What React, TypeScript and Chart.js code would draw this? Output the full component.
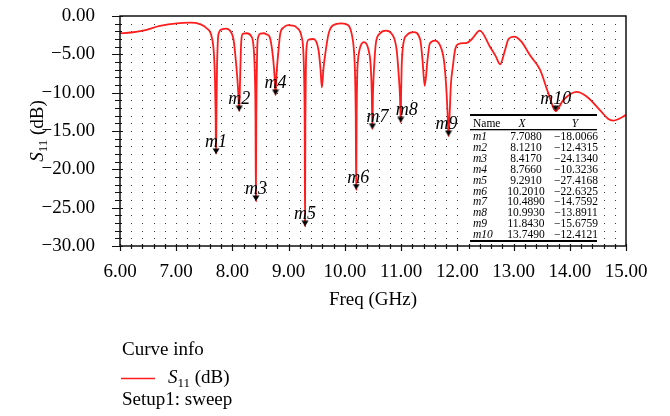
import { useEffect, useRef } from 'react';
import { Chart, registerables } from 'chart.js';

Chart.register(...registerables);

// ---- data ----
const xTickMin = 6;
const xTickMax = 15;
const yTickMin = -30;
const yTickMax = 0;

// S11 (dB) vs Freq (GHz)
const s11Curve: [number, number][] = [
  [6.0, -2.25], [6.2, -2.15], [6.41, -1.9], [6.71, -1.3], [7.01, -0.95], [7.25, -0.87], [7.42, -1.05],
  [7.54, -1.6], [7.63, -2.7], [7.67, -4.9], [7.69, -8.5], [7.7, -12.5], [7.708, -18.0066], [7.716, -12.5],
  [7.725, -7.0], [7.735, -4.2], [7.75, -2.4], [7.81, -1.74], [7.89, -1.65], [7.97, -2.05], [8.02, -3.1],
  [8.07, -6.6], [8.1, -9.5], [8.121, -12.4315], [8.135, -8.5], [8.15, -4.4], [8.165, -2.7], [8.19, -2.3],
  [8.25, -2.25], [8.34, -2.7], [8.38, -4.4], [8.4, -8.0], [8.41, -13.0], [8.417, -24.134], [8.424, -13.0],
  [8.432, -8.0], [8.44, -4.4], [8.46, -2.7], [8.5, -2.3], [8.56, -2.25], [8.61, -2.4], [8.66, -2.7],
  [8.72, -5.3], [8.75, -8.0], [8.766, -10.3236], [8.785, -7.5], [8.82, -4.4], [8.85, -2.3], [8.91, -1.5],
  [8.99, -1.2], [9.07, -1.25], [9.14, -1.5], [9.23, -2.7], [9.26, -4.5], [9.275, -8.0], [9.285, -14.0],
  [9.291, -27.4168], [9.297, -14.0], [9.305, -7.5], [9.315, -4.4], [9.35, -3.1], [9.44, -3.0], [9.53, -4.4],
  [9.565, -6.8], [9.59, -9.3], [9.62, -6.8], [9.65, -5.0], [9.71, -2.3], [9.79, -1.2], [9.94, -0.95],
  [10.06, -1.2], [10.12, -2.3], [10.16, -4.4], [10.18, -7.5], [10.193, -13.0], [10.201, -22.6325],
  [10.209, -13.0], [10.22, -7.5], [10.23, -6.0], [10.26, -4.4], [10.3, -3.6], [10.34, -3.4], [10.42, -4.4],
  [10.46, -6.6], [10.478, -10.0], [10.489, -14.7592], [10.5, -10.0], [10.52, -6.6], [10.55, -3.6],
  [10.62, -2.3], [10.73, -1.9], [10.83, -2.3], [10.92, -4.4], [10.96, -8.0], [10.98, -10.5],
  [10.993, -13.8911], [11.0, -10.0], [11.01, -6.6], [11.04, -3.6], [11.1, -2.5], [11.22, -2.1],
  [11.34, -3.1], [11.38, -5.7], [11.42, -9.1], [11.47, -5.7], [11.51, -3.6], [11.6, -3.2], [11.69, -3.8],
  [11.76, -5.7], [11.8, -9.0], [11.825, -12.5], [11.843, -15.6759], [11.865, -12.5], [11.885, -9.0],
  [11.92, -6.6], [11.96, -4.4], [12.02, -3.65], [12.17, -3.5], [12.26, -3.0], [12.4, -1.9], [12.58, -4.0],
  [12.68, -5.2], [12.76, -6.3], [12.85, -4.4], [12.91, -3.0], [13.01, -2.7], [13.14, -3.35], [13.29, -5.1],
  [13.47, -7.0], [13.62, -10.1], [13.749, -12.4121], [13.88, -11.0], [14.03, -10.1], [14.12, -9.9],
  [14.3, -10.5], [14.54, -12.3], [14.68, -13.4], [14.77, -13.65], [14.88, -13.4], [15.0, -12.9],
];

const markerNames = ['m1', 'm2', 'm3', 'm4', 'm5', 'm6', 'm7', 'm8', 'm9', 'm10'];
const markerFreq = [7.708, 8.121, 8.417, 8.766, 9.291, 10.201, 10.489, 10.993, 11.843, 13.749];
const markerS11 = [-18.0066, -12.4315, -24.134, -10.3236, -27.4168, -22.6325, -14.7592, -13.8911, -15.6759, -12.4121];

// ---- styles ----
const SERIF = '"Liberation Serif", "Times New Roman", serif';
const RED = '#ff1c1c';
const labelShift: Record<string, number> = { m7: 5, m8: 6, m6: 2, m9: -2 };

const signed = (n: number, d: number) => (n < 0 ? '\u2212' : '') + Math.abs(n).toFixed(d);

function drawS11(ctx: CanvasRenderingContext2D, x: number, y: number, centered: boolean) {
  const fS = `italic 19px ${SERIF}`;
  const fSub = `13px ${SERIF}`;
  const fN = `19px ${SERIF}`;
  ctx.font = fS;
  const wS = ctx.measureText('S').width;
  ctx.font = fSub;
  const wSub = ctx.measureText('11').width;
  ctx.font = fN;
  const wR = ctx.measureText(' (dB)').width;
  let x0 = centered ? x - (wS + wSub + wR) / 2 : x;
  ctx.textAlign = 'left';
  ctx.textBaseline = 'alphabetic';
  ctx.fillStyle = '#000';
  ctx.font = fS;
  ctx.fillText('S', x0, y);
  x0 += wS;
  ctx.font = fSub;
  ctx.fillText('11', x0, y + 4);
  x0 += wSub;
  ctx.font = fN;
  ctx.fillText(' (dB)', x0, y);
}

const decor = {
  id: 'decor',
  beforeDatasetsDraw(chart: any) {
    const { ctx, scales } = chart;
    const xs = scales.x;
    const ys = scales.y;
    ctx.save();
    ctx.fillStyle = '#3a3a3a';
    for (let i = 1; i < 45; i++) {
      const px = Math.round(xs.getPixelForValue(xTickMin + i * 0.2));
      for (let j = 1; j < 30; j++) {
        const py = Math.round(ys.getPixelForValue(-j));
        ctx.fillRect(px, py, 1, 1);
      }
    }
    ctx.restore();
  },
  afterDatasetsDraw(chart: any) {
    const { ctx, chartArea: a, scales } = chart;
    const xs = scales.x;
    const ys = scales.y;
    ctx.save();

    // marker labels
    ctx.fillStyle = '#000';
    ctx.font = `italic 18px ${SERIF}`;
    ctx.textAlign = 'center';
    ctx.textBaseline = 'alphabetic';
    markerNames.forEach((n, i) => {
      const px = xs.getPixelForValue(markerFreq[i]) + (labelShift[n] || 0);
      const py = ys.getPixelForValue(markerS11[i]) - 7;
      ctx.fillText(n, px, py);
    });

    // marker table
    const tl = 470;
    const tr = 597;
    const w = tr - tl;
    ctx.fillStyle = '#fff';
    ctx.fillRect(467, 112, 133, 133);
    ctx.fillStyle = '#000';
    ctx.fillRect(tl, 114, w, 2);
    ctx.fillRect(tl, 129, w, 1.3);
    ctx.fillRect(tl, 240, w, 2);
    ctx.textBaseline = 'alphabetic';
    ctx.font = `11.5px ${SERIF}`;
    ctx.textAlign = 'left';
    ctx.fillText('Name', 473, 127);
    ctx.font = `italic 11.5px ${SERIF}`;
    ctx.textAlign = 'center';
    ctx.fillText('X', 522, 127);
    ctx.fillText('Y', 575, 127);
    markerNames.forEach((n, i) => {
      const by = 140 + i * 10.9;
      ctx.font = `italic 11.5px ${SERIF}`;
      ctx.textAlign = 'left';
      ctx.fillText(n, 473, by);
      ctx.font = `11.5px ${SERIF}`;
      ctx.textAlign = 'center';
      ctx.fillText(markerFreq[i].toFixed(4), 526, by);
      ctx.fillText(signed(markerS11[i], 4), 576, by);
    });

    // frame
    ctx.strokeStyle = '#111';
    ctx.lineWidth = 1.5;
    ctx.strokeRect(a.left, a.top, a.right - a.left, a.bottom - a.top);

    // ticks
    ctx.lineWidth = 1.2;
    ctx.beginPath();
    for (let v = yTickMin; v <= yTickMax; v++) {
      const py = Math.round(ys.getPixelForValue(v)) + 0.5;
      const major = v % 5 === 0;
      ctx.moveTo(a.left - (major ? 8 : 5), py);
      ctx.lineTo(a.left + (major ? 3 : 2), py);
    }
    for (let i = 0; i <= 45; i++) {
      const px = Math.round(xs.getPixelForValue(xTickMin + i * 0.2)) + 0.5;
      const major = i % 5 === 0;
      ctx.moveTo(px, a.bottom - 2);
      ctx.lineTo(px, a.bottom + (major ? 5 : 3));
    }
    ctx.stroke();

    // axis titles
    ctx.fillStyle = '#000';
    ctx.font = `19px ${SERIF}`;
    ctx.textAlign = 'center';
    ctx.textBaseline = 'alphabetic';
    ctx.fillText('Freq (GHz)', (a.left + a.right) / 2, 305);

    ctx.save();
    ctx.translate(43, (a.top + a.bottom) / 2);
    ctx.rotate(-Math.PI / 2);
    drawS11(ctx, 0, 0, true);
    ctx.restore();

    // curve info legend
    ctx.fillStyle = '#000';
    ctx.font = `19px ${SERIF}`;
    ctx.textAlign = 'left';
    ctx.fillText('Curve info', 122, 355);
    ctx.strokeStyle = RED;
    ctx.lineWidth = 1.5;
    ctx.beginPath();
    ctx.moveTo(121, 378.5);
    ctx.lineTo(155, 378.5);
    ctx.stroke();
    drawS11(ctx, 168, 383, false);
    ctx.font = `19px ${SERIF}`;
    ctx.textAlign = 'left';
    ctx.fillText('Setup1: sweep', 122, 405);

    ctx.restore();
  },
};

export default function App() {
  const ref = useRef<HTMLCanvasElement>(null);

  useEffect(() => {
    const canvas = ref.current;
    if (!canvas) return;

    const tri = document.createElement('canvas');
    tri.width = 8;
    tri.height = 12;
    const tctx = tri.getContext('2d');
    if (tctx) {
      tctx.fillStyle = '#000';
      tctx.beginPath();
      tctx.moveTo(0.5, 0.5);
      tctx.lineTo(7.5, 0.5);
      tctx.lineTo(4, 6);
      tctx.closePath();
      tctx.fill();
    }

    const chart = new Chart(canvas, {
      type: 'line',
      data: {
        datasets: [
          {
            label: 'S11 (dB)',
            data: s11Curve.map(([x, y]) => ({ x, y })),
            borderColor: RED,
            borderWidth: 1.8,
            pointRadius: 0,
            cubicInterpolationMode: 'monotone',
            fill: false,
            order: 2,
          },
          {
            label: 'markers',
            data: markerFreq.map((x, i) => ({ x, y: markerS11[i] })),
            showLine: false,
            pointStyle: tri as any,
            pointRadius: 4,
            order: 1,
          },
        ],
      },
      options: {
        animation: false,
        responsive: false,
        devicePixelRatio: 1,
        layout: { padding: { left: 0, top: 16, right: 44, bottom: 0 } },
        plugins: { legend: { display: false }, tooltip: { enabled: false } },
        scales: {
          x: {
            type: 'linear',
            min: xTickMin,
            max: xTickMax,
            grid: { display: false },
            border: { display: false },
            ticks: {
              stepSize: 1,
              padding: 7,
              color: '#000',
              maxRotation: 0,
              autoSkip: false,
              font: { family: SERIF, size: 19 },
              callback: (v: any) => Number(v).toFixed(2),
            },
            afterFit: (s: any) => {
              s.height = 170;
              s.paddingLeft = 0;
              s.paddingRight = 0;
            },
          },
          y: {
            type: 'linear',
            min: yTickMin,
            max: yTickMax,
            grid: { display: false },
            border: { display: false },
            ticks: {
              stepSize: 5,
              padding: 17,
              color: '#000',
              font: { family: SERIF, size: 19 },
              callback: (v: any) => signed(Number(v), 2),
            },
            afterFit: (s: any) => {
              s.width = 120;
              s.paddingTop = 0;
              s.paddingBottom = 0;
            },
          },
        },
      } as any,
      plugins: [decor],
    });

    return () => chart.destroy();
  }, []);

  return (
    <div style={{ position: 'absolute', left: 0, top: 0, width: 670, height: 416, background: '#fff' }}>
      <canvas ref={ref} width={670} height={416} style={{ display: 'block' }} />
    </div>
  );
}
